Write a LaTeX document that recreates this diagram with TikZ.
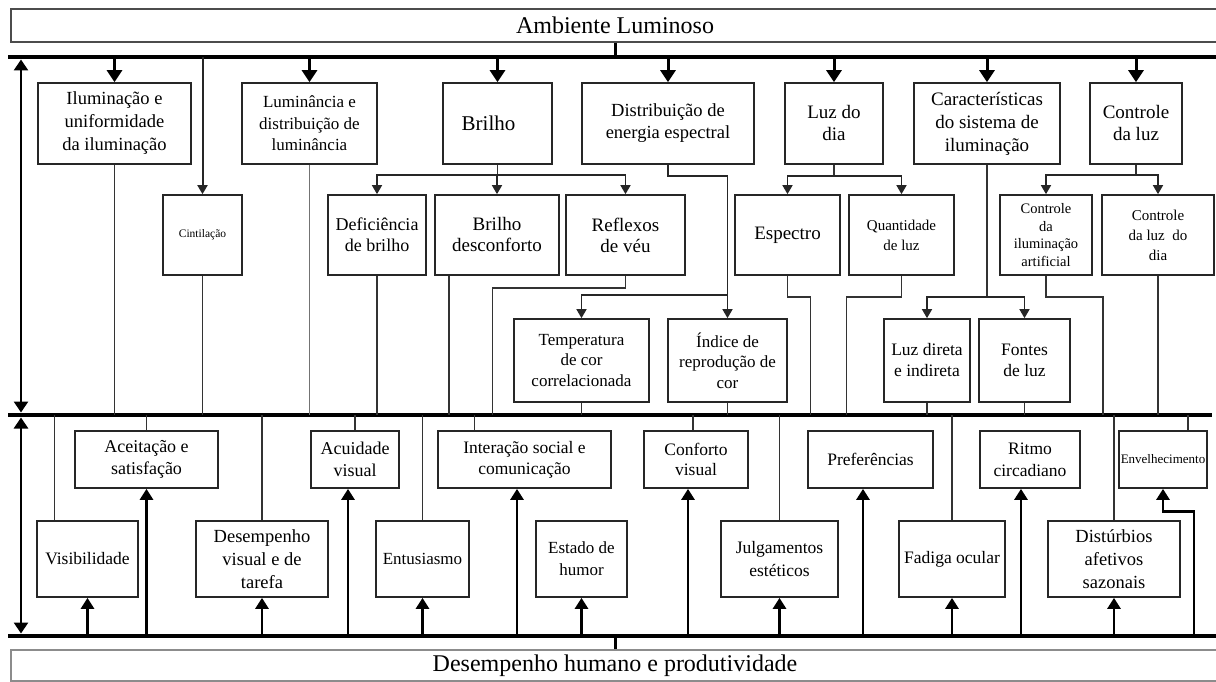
\documentclass[tikz,border=0pt]{standalone}
\usepackage{fontspec}
\setmainfont{Liberation Serif}
\usetikzlibrary{arrows.meta}
\newcommand\fsz[2]{\fontsize{#1}{#2}\selectfont}
% box from corner (x1,y1) to (x2,y2), y measured downwards
\newcommand\mkbox[7][]{\node[box,minimum width={(#5-#3)*1pt},minimum height={(#6-#4)*1pt},#1] (#2) at ({(#3+#5)/2},{(#4+#6)/2}) {#7};}
\begin{document}
\begin{tikzpicture}[x=1pt,y=-1pt,
  box/.style={draw=black!85,line width=1.7pt,inner sep=0pt,align=center,text=black},
  bandbox/.style={line width=1.6pt,inner sep=0pt,align=center,font=\fsz{24}{28}},
  bus/.style={line width=4.5pt,black},
  stub/.style={line width=3pt,black},
  conn/.style={line width=1.6pt,black!80},
  lconn/.style={line width=1.4pt,black!55},
  harrow/.style={line width=3pt,black,-{Triangle[width=15pt,length=12pt]}},
  uarrow/.style={line width=2.8pt,black,-{Triangle[width=13pt,length=11pt]}},
  sarrow/.style={line width=1.6pt,black!85,-{Triangle[width=10pt,length=9pt]}},
  darrow/.style={line width=2.7pt,black,{Triangle[width=14pt,length=11pt]}-{Triangle[width=14pt,length=11pt]}},
]
\clip (0,0) rectangle (1216,682);
\fill[white] (0,0) rectangle (1216,682);

% bands at top and bottom
\node[bandbox,draw=black!70,minimum width=1208pt,minimum height=33pt] (amb) at (615,25.5) {Ambiente Luminoso};
\node[bandbox,draw=black!45,minimum width=1208pt,minimum height=31pt] (dhp) at (615,665.5) {Desempenho humano e produtividade};

% buses
\coordinate (tb) at (8,57);   \coordinate (tbe) at (1216,57);
\coordinate (mb) at (8,415);  \coordinate (mbe) at (1212,415);
\coordinate (bb) at (8,636);  \coordinate (bbe) at (1216,636);
\draw[bus] (tb) -- (tbe);
\draw[bus] (mb) -- (mbe);
\draw[bus] (bb) -- (bbe);
\draw[stub] (amb.south) -- (amb.south |- tb);
\draw[stub] (dhp.north) -- (dhp.north |- bb);

% side arrows
\coordinate (lx) at (21,0);
\draw[darrow,shorten <=2.5pt,shorten >=2.5pt] (lx |- tb) -- (lx |- mb);
\draw[darrow,shorten <=2.5pt,shorten >=2.5pt] (lx |- mb) -- (lx |- bb);

% first row
\mkbox[font=\fsz{18.5}{23}]{ilu}{38}{83}{191}{164}{Iluminação e\\uniformidade\\da iluminação}
\mkbox[font=\fsz{17}{21.5}]{lum}{242}{83}{377}{164}{Luminância e\\distribuição de\\luminância}
\mkbox[font=\fsz{21}{25}]{bri}{443}{83}{552}{164}{Brilho\hspace*{18pt}}
\mkbox[font=\fsz{18.5}{22}]{dee}{582}{83}{754}{164}{Distribuição de\\energia espectral}
\mkbox[font=\fsz{19}{22}]{ldd}{785}{83}{883}{164}{Luz do\\dia}
\mkbox[font=\fsz{19}{23}]{car}{914}{83}{1060}{164}{Características\\do sistema de\\iluminação}
\mkbox[font=\fsz{19}{22}]{ctl}{1090}{83}{1182}{164}{Controle\\da luz}

% second row
\mkbox[font=\fsz{11.5}{14}]{cin}{163}{195}{242}{275}{Cintilação}
\mkbox[font=\fsz{18}{21}]{def}{328}{195}{426}{275}{Deficiência\\de brilho}
\mkbox[font=\fsz{19}{21}]{bde}{435}{195}{559}{275}{Brilho\\desconforto}
\mkbox[font=\fsz{19}{21}]{rfv}{566}{195}{685}{275}{Reflexos\\de véu}
\mkbox[font=\fsz{19}{22}]{esp}{735}{195}{840}{275}{Espectro}
\mkbox[font=\fsz{15}{20}]{qtd}{849}{195}{954}{275}{Quantidade\\de luz}
\mkbox[font=\fsz{14.5}{17.7}]{cia}{1000}{195}{1092}{275}{Controle\\da\\iluminação\\artificial}
\mkbox[font=\fsz{15}{20}]{cld}{1102}{195}{1214}{275}{Controle\\da luz~ do\\dia}

% third row
\mkbox[font=\fsz{17}{20.5}]{tcc}{514}{319}{649}{402}{Temperatura\\de cor\\correlacionada}
\mkbox[font=\fsz{17}{20.5}]{irc}{668}{319}{787}{402}{Índice de\\reprodução de\\cor}
\mkbox[font=\fsz{17.5}{21}]{ldi}{884}{319}{970}{402}{Luz direta\\e indireta}
\mkbox[font=\fsz{17.5}{21}]{fdl}{979}{319}{1070}{402}{Fontes\\de luz}

% effects, upper row
\mkbox[font=\fsz{18}{22}]{ace}{75}{431}{218}{488}{Aceitação e\\satisfação}
\mkbox[font=\fsz{18}{22}]{acu}{311}{431}{399}{488}{Acuidade\\visual}
\mkbox[font=\fsz{17.5}{21}]{isc}{438}{431}{611}{488}{Interação social e\\comunicação}
\mkbox[font=\fsz{17.5}{20}]{cvi}{644}{431}{748}{488}{Conforto\\visual}
\mkbox[font=\fsz{17.5}{21}]{pre}{808}{431}{933}{488}{Preferências}
\mkbox[font=\fsz{17.5}{22}]{rci}{980}{431}{1080}{488}{Ritmo\\circadiano}
\mkbox[font=\fsz{13}{16}]{env}{1119}{431}{1207}{488}{Envelhecimento}

% effects, lower row
\mkbox[font=\fsz{17.5}{22}]{vis}{37}{521}{138}{597}{Visibilidade}
\mkbox[font=\fsz{18.5}{23}]{dvt}{196}{521}{328}{597}{Desempenho\\visual e de\\tarefa}
\mkbox[font=\fsz{17}{22}]{ent}{376}{521}{469}{597}{Entusiasmo}
\mkbox[font=\fsz{17}{22}]{ehu}{536}{521}{627}{597}{Estado de\\humor}
\mkbox[font=\fsz{17.5}{23}]{jes}{721}{521}{838}{597}{Julgamentos\\estéticos}
\mkbox[font=\fsz{17.5}{22}]{foc}{899}{521}{1005}{597}{Fadiga ocular}
\mkbox[font=\fsz{18.5}{23}]{das}{1048}{521}{1180}{597}{Distúrbios\\afetivos\\sazonais}

% top bus to first row
\foreach \b in {ilu,lum,bri,dee,ldd,car,ctl}
  \draw[harrow] (\b.north |- tb) -- (\b.north);
\draw[sarrow,line width=2pt] (cin.north |- tb) -- (cin.north);

% branches inside the first section
\draw[conn] (bri.south) -- ++(0,10) coordinate (brj);
\draw[sarrow] (brj) -| (def.north);
\draw[sarrow] (brj) -- (bde.north |- brj) -- (bde.north);
\draw[sarrow] (brj) -| (rfv.north);
\draw[conn] (ldd.south) -- ++(0,11) coordinate (ldj);
\draw[sarrow] (ldj) -| (esp.north);
\draw[sarrow] (ldj) -| (qtd.north);
\draw[conn] (ctl.south) -- ++(0,10) coordinate (ctj);
\draw[sarrow] (ctj) -| (cia.north);
\draw[sarrow] (ctj) -| (cld.north);
\draw[sarrow] (dee.south) -- ++(0,11) -| (irc.north);
\path (irc.north) ++(0,-23) coordinate (dej);
\draw[sarrow] (dej) -| (tcc.north);
\draw[conn] (car.south) -- ++(0,132) coordinate (caj);
\draw[sarrow] (caj) -| (ldi.north);
\draw[sarrow] (caj) -| (fdl.north);

% first section down to the middle bus
\foreach \b in {ilu,cin,def,cld,tcc,irc,ldi,fdl}
  \draw[conn] (\b.south) -- (\b.south |- mb);
\draw[lconn] (lum.south) -- (lum.south |- mb);
\path (bde.south) ++(-48,0) coordinate (bdk);
\draw[conn] (bdk) -- (bdk |- mb);
\draw[conn] (rfv.south) -- ++(0,12) -- ++(-133,0) coordinate (rfk) -- (rfk |- mb);
\draw[conn] (esp.south) -- ++(0,21) -- ++(23,0) coordinate (esk) -- (esk |- mb);
\draw[conn] (qtd.south) -- ++(0,21) -- ++(-55,0) coordinate (qtk) -- (qtk |- mb);
\draw[conn] (cia.south) -- ++(0,21) -- ++(57,0) coordinate (cik) -- (cik |- mb);

% middle bus down to the effects
\foreach \b in {ace,acu,dvt,ent,jes,foc,das}
  \draw[conn] (\b.north |- mb) -- (\b.north);
\path (vis.north) ++(-33,0) coordinate (vik);
\draw[conn] (vik |- mb) -- (vik);
\path (isc.north) ++(-50,0) coordinate (isk);
\draw[conn] (isk |- mb) -- (isk);
\path (cvi.north) ++(-3,0) coordinate (cvk);
\draw[conn] (cvk |- mb) -- (cvk);
\path (env.north) ++(25,0) coordinate (enk);
\draw[conn] (enk |- mb) -- (enk);

% bottom bus up to the effects
\foreach \b in {vis,dvt,ent,ehu,jes,foc,das}
  \draw[uarrow] (\b.south |- bb) -- (\b.south);
\draw[uarrow] (ace.south |- bb) -- (ace.south);
\path (acu.south) ++(-7,0) coordinate (acw);
\draw[uarrow] (acw |- bb) -- (acw);
\path (isc.south) ++(-7.5,0) coordinate (isw);
\draw[uarrow] (isw |- bb) -- (isw);
\path (cvi.south) ++(-8,0) coordinate (cvw);
\draw[uarrow] (cvw |- bb) -- (cvw);
\path (pre.south) ++(-7.5,0) coordinate (prw);
\draw[uarrow] (prw |- bb) -- (prw);
\path (rci.south) ++(-9,0) coordinate (rcw);
\draw[uarrow] (rcw |- bb) -- (rcw);
\path (env.south) ++(31,23) coordinate (enw);
\draw[uarrow] (enw |- bb) -- (enw) -| (env.south);
\end{tikzpicture}
\end{document}
